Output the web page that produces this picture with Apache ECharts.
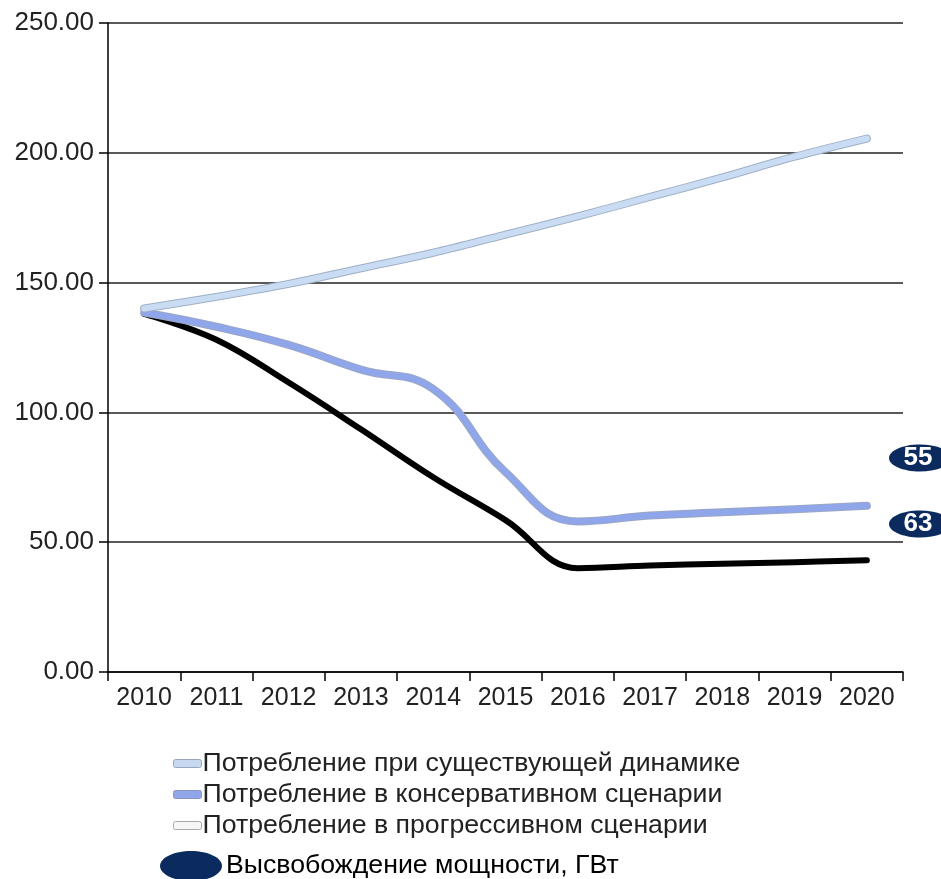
<!DOCTYPE html>
<html><head><meta charset="utf-8">
<script src="https://cdn.jsdelivr.net/npm/echarts@6/dist/echarts.min.js"></script>
<style>html,body{margin:0;padding:0;background:#fff}#c{width:941px;height:879px}</style>
</head><body><div id="c"></div>
<script>
const years = ['2010','2011','2012','2013','2014','2015','2016','2017','2018','2019','2020'];
const yTicks = [0, 50, 100, 150, 200, 250];
const nameExisting = 'Потребление при существующей динамике';
const nameConservative = 'Потребление в консервативном сценарии';
const nameProgressive = 'Потребление в прогрессивном сценарии';
const existing = [140, 144.5, 149.5, 155.5, 161.5, 168.5, 175.5, 183, 190.5, 198.5, 205.5];
const conservative = [138.5, 133, 126, 116.5, 109, 77, 58, 60.3, 61.5, 62.7, 64];
const progressive = [138, 128, 111.5, 93.5, 75, 58.5, 40, 41, 41.7, 42.3, 43];
const releaseLabel = 'Высвобождение мощности, ГВт';
const badgeValues = ['55', '63'];

const font = '"Liberation Sans", Arial, sans-serif';
const chart = echarts.init(document.getElementById('c'), null, {renderer: 'canvas'});

function lineSeries(name, data, color, width, z, smooth) {
  return {name, type: 'line', data, smooth: smooth, symbol: 'none', z,
    lineStyle: {color, width, cap: 'round', join: 'round'}, silent: true};
}

chart.setOption({
  animation: false,
  backgroundColor: '#fff',
  grid: {left: 108, right: 38, top: 23, bottom: 207},
  xAxis: {
    type: 'category', data: years, boundaryGap: true,
    axisLine: {lineStyle: {color: '#000', width: 1.5}},
    axisTick: {show: true, length: 9, interval: 0, lineStyle: {color: '#000', width: 1.5}},
    axisLabel: {color: '#222', fontSize: 25, fontFamily: font, margin: 14, interval: 0, hideOverlap: false}
  },
  yAxis: {
    type: 'value', min: 0, max: 250, interval: 50,
    axisLine: {show: true, lineStyle: {color: '#000', width: 1.5}},
    axisTick: {show: true, length: 9, lineStyle: {color: '#000', width: 1.5}},
    splitLine: {show: true, lineStyle: {color: '#222', width: 1.5}},
    axisLabel: {color: '#222', fontSize: 26, fontFamily: font, margin: 14,
      formatter: v => yTicks.includes(v) ? v.toFixed(2) : ''}
  },
  legend: {
    orient: 'vertical', left: 168, top: 745, itemWidth: 28, itemHeight: 8, itemGap: 4,
    icon: 'roundRect',
    textStyle: {color: '#222', fontSize: 26.7, fontFamily: font, padding: [0,0,0,-4]},
    data: [
      {name: nameExisting, itemStyle: {color: '#c6d9f1', borderColor: '#9aa7ba', borderWidth: 1}},
      {name: nameConservative, itemStyle: {color: '#8fa6ea', borderColor: '#8a96b8', borderWidth: 1}},
      {name: nameProgressive, itemStyle: {color: '#f6f6f6', borderColor: '#a8a8a8', borderWidth: 1}}
    ]
  },
  series: [
    lineSeries('_e_edge', existing, '#9fb0c6', 8, 4, 0.35),
    lineSeries(nameExisting, existing, '#c9dcf3', 6, 5, 0.35),
    lineSeries('_c_edge', conservative, '#9aa6c4', 8, 2, 0.45),
    lineSeries(nameConservative, conservative, '#8fa6ea', 6, 3, 0.45),
    lineSeries(nameProgressive, progressive, '#000', 6, 1, 0.4)
  ],
  graphic: [
    {type: 'ellipse', shape: {cx: 920, cy: 458, rx: 31, ry: 13.5}, style: {fill: '#0b2a5e'}},
    {type: 'text', x: 918, y: 458, style: {text: badgeValues[0], fill: '#fff', font: 'bold 26px ' + font, align: 'center', verticalAlign: 'middle'}},
    {type: 'ellipse', shape: {cx: 920, cy: 524, rx: 31, ry: 13.5}, style: {fill: '#0b2a5e'}},
    {type: 'text', x: 918, y: 524, style: {text: badgeValues[1], fill: '#fff', font: 'bold 26px ' + font, align: 'center', verticalAlign: 'middle'}},
    {type: 'ellipse', shape: {cx: 191, cy: 866, rx: 31, ry: 15}, style: {fill: '#0b2a5e'}},
    {type: 'text', x: 226, y: 866, style: {text: releaseLabel, fill: '#000', font: '26.7px ' + font, align: 'left', verticalAlign: 'middle'}}
  ]
});
</script></body></html>
